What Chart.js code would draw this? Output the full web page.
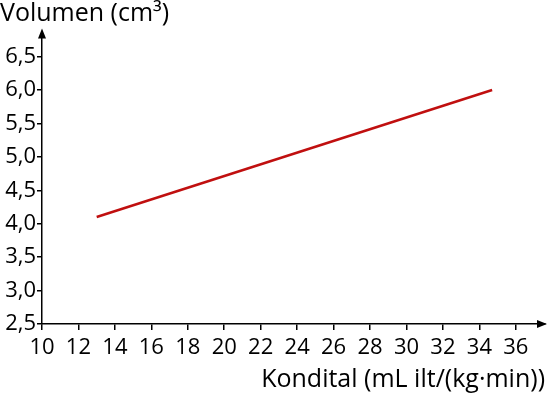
<!DOCTYPE html>
<html>
<head>
<meta charset="utf-8">
<script src="https://cdn.jsdelivr.net/npm/chart.js@4"></script>
<style>
  html, body { margin: 0; padding: 0; background: #fff; }
  #wrap { width: 547px; height: 396px; }
</style>
</head>
<body>
<div id="wrap"><canvas id="myChart"></canvas></div>
<script>
/******** data */
const konditalPoints = [13, 34.7];
const volumenPoints = [4.1, 6.0];
const xTicks = [10, 12, 14, 16, 18, 20, 22, 24, 26, 28, 30, 32, 34, 36];
const yTicks = [2.5, 3.0, 3.5, 4.0, 4.5, 5.0, 5.5, 6.0, 6.5];

const fontFamily = "'Open Sans', 'Noto Sans', sans-serif";

/******** arrow heads on the two axes */
const axisArrows = {
  id: "axisArrows",
  afterDraw(chart) {
    const c = chart.ctx;
    const a = chart.chartArea;
    c.save();
    c.fillStyle = "#000";
    // up arrow
    c.beginPath();
    c.moveTo(a.left, a.top - 6);
    c.lineTo(a.left - 4, a.top + 4);
    c.lineTo(a.left + 4, a.top + 4);
    c.closePath();
    c.fill();
    // right arrow
    c.beginPath();
    c.moveTo(a.right + 2, a.bottom);
    c.lineTo(a.right - 8, a.bottom - 4);
    c.lineTo(a.right - 8, a.bottom + 4);
    c.closePath();
    c.fill();
    c.restore();
  },
};

const ctx = document.getElementById("myChart");
new Chart(ctx, {
  type: "scatter",
  data: {
    datasets: [
      {
        data: konditalPoints.map((x, i) => ({ x: x, y: volumenPoints[i] })),
        showLine: true,
        borderColor: "#c00f0f",
        borderWidth: 2.5,
        pointRadius: 0,
      },
    ],
  },
  options: {
    responsive: true,
    maintainAspectRatio: false,
    animation: false,
    layout: { padding: { left: 0, right: 2, top: 0, bottom: 0 } },
    plugins: {
      legend: { display: false },
      tooltip: { enabled: false },
      title: {
        display: true,
        text: "Volumen (cm³)",
        align: "start",
        color: "#000",
        font: { family: fontFamily, size: 25, weight: "normal", lineHeight: 1.1 },
        padding: { top: 0, bottom: 7 },
      },
    },
    scales: {
      x: {
        type: "linear",
        min: 10,
        max: 37.6,
        afterBuildTicks: (scale) => {
          scale.ticks = xTicks.map((v) => ({ value: v }));
        },
        afterFit: (scale) => {
          scale.height = 72;
        },
        border: { display: true, color: "#000", width: 1.5 },
        grid: { drawOnChartArea: false, color: "#000", tickLength: 6, lineWidth: 1.5 },
        ticks: {
          color: "#000",
          padding: 5,
          maxRotation: 0,
          autoSkip: false,
          font: { family: fontFamily, size: 22 },
        },
        title: {
          display: true,
          text: "Kondital (mL ilt/(kg·min))",
          align: "end",
          color: "#000",
          font: { family: fontFamily, size: 25, lineHeight: 1.1 },
          padding: { top: 0, bottom: 2 },
        },
      },
      y: {
        type: "linear",
        min: 2.5,
        max: 6.83,
        afterBuildTicks: (scale) => {
          scale.ticks = yTicks.map((v) => ({ value: v }));
        },
        afterFit: (scale) => {
          scale.width = 42;
        },
        border: { display: true, color: "#000", width: 1.5 },
        grid: { drawOnChartArea: false, color: "#000", tickLength: 5, lineWidth: 1.5 },
        ticks: {
          color: "#000",
          padding: 1,
          autoSkip: false,
          font: { family: fontFamily, size: 22 },
          callback: (v) => v.toFixed(1).replace(".", ","),
        },
      },
    },
  },
  plugins: [axisArrows],
});
</script>
</body>
</html>
